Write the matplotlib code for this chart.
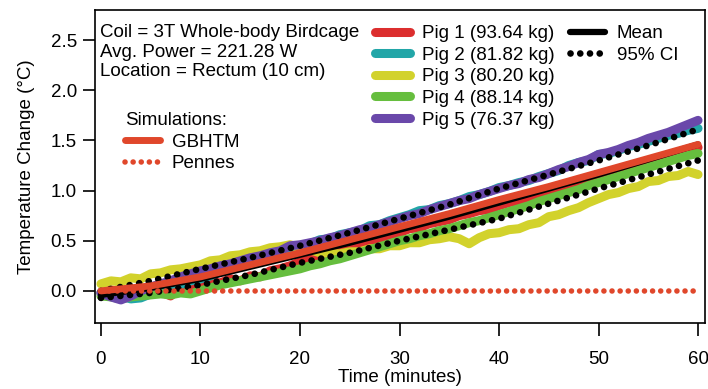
import numpy as np
import matplotlib
matplotlib.use("Agg")
import matplotlib.pyplot as plt

plt.rcParams['font.family'] = ['Liberation Sans', 'DejaVu Sans']
plt.rcParams['font.size'] = 13.5

# pig measurements, sampled every minute
t_pig = np.arange(0, 61)
pig1 = [-0.02, 0.01, -0.01, 0.02, 0.00, 0.03, -0.01, -0.05, 0.03, 0.05,
        0.06, 0.09, 0.08, 0.12, 0.10, 0.15, 0.14, 0.20, 0.22, 0.25,
        0.29, 0.31, 0.35, 0.36, 0.41, 0.44, 0.46, 0.50, 0.52, 0.56,
        0.58, 0.62, 0.63, 0.67, 0.69, 0.71, 0.75, 0.77, 0.80, 0.81,
        0.85, 0.88, 0.90, 0.94, 0.95, 0.99, 1.02, 1.04, 1.08, 1.10,
        1.14, 1.17, 1.20, 1.24, 1.26, 1.30, 1.32, 1.35, 1.38, 1.40, 1.43]
pig2 = [-0.02, -0.04, -0.05, -0.08, -0.07, -0.03, 0.00, 0.03, 0.06, 0.10,
        0.12, 0.15, 0.19, 0.21, 0.25, 0.27, 0.31, 0.35, 0.38, 0.40,
        0.44, 0.47, 0.51, 0.52, 0.56, 0.58, 0.60, 0.65, 0.66, 0.70,
        0.73, 0.76, 0.80, 0.81, 0.85, 0.87, 0.90, 0.94, 0.96, 0.99,
        1.03, 1.05, 1.08, 1.10, 1.14, 1.17, 1.20, 1.25, 1.28, 1.30,
        1.36, 1.37, 1.40, 1.44, 1.46, 1.49, 1.52, 1.55, 1.57, 1.60, 1.62]
pig3 = [0.07, 0.10, 0.09, 0.13, 0.12, 0.17, 0.18, 0.21, 0.22, 0.24,
        0.26, 0.30, 0.31, 0.35, 0.36, 0.39, 0.40, 0.43, 0.44, 0.46,
        0.43, 0.41, 0.38, 0.37, 0.37, 0.39, 0.39, 0.42, 0.42, 0.45,
        0.45, 0.48, 0.48, 0.51, 0.52, 0.54, 0.52, 0.47, 0.53, 0.57,
        0.58, 0.61, 0.62, 0.66, 0.68, 0.74, 0.76, 0.80, 0.83, 0.88,
        0.92, 0.96, 0.98, 1.02, 1.04, 1.09, 1.10, 1.14, 1.15, 1.19, 1.16]
pig4 = [-0.05, -0.06, -0.08, -0.06, -0.05, -0.04, -0.03, -0.04, -0.02, -0.03,
        0.00, 0.03, 0.06, 0.08, 0.10, 0.12, 0.14, 0.16, 0.18, 0.20,
        0.22, 0.25, 0.27, 0.30, 0.32, 0.35, 0.38, 0.41, 0.44, 0.47,
        0.50, 0.52, 0.55, 0.57, 0.60, 0.62, 0.65, 0.68, 0.70, 0.73,
        0.76, 0.79, 0.82, 0.85, 0.89, 0.92, 0.95, 0.98, 1.01, 1.05,
        1.08, 1.11, 1.14, 1.17, 1.20, 1.23, 1.26, 1.29, 1.32, 1.35, 1.37]
pig5 = [-0.02, -0.06, -0.09, -0.05, 0.00, 0.04, 0.07, 0.10, 0.14, 0.17,
        0.20, 0.22, 0.25, 0.27, 0.30, 0.33, 0.35, 0.38, 0.40, 0.45,
        0.46, 0.48, 0.50, 0.53, 0.55, 0.58, 0.61, 0.63, 0.66, 0.69,
        0.72, 0.75, 0.77, 0.81, 0.84, 0.87, 0.90, 0.92, 0.96, 0.99,
        1.02, 1.05, 1.07, 1.11, 1.13, 1.17, 1.21, 1.24, 1.28, 1.31,
        1.36, 1.38, 1.41, 1.45, 1.48, 1.52, 1.55, 1.58, 1.62, 1.66, 1.70]
pig_labels = ['Pig 1 (93.64 kg)', 'Pig 2 (81.82 kg)', 'Pig 3 (80.20 kg)',
              'Pig 4 (88.14 kg)', 'Pig 5 (76.37 kg)']
pig_colors = ['#dc2e2e', '#22a6a8', '#d2d22c', '#66be3e', '#6a48aa']

# mean, CI and simulations, every 5 minutes
t_sum = [0, 5, 10, 15, 20, 25, 30, 35, 40, 45, 50, 55, 60]
mean = [-0.04, 0.03, 0.12, 0.24, 0.36, 0.48, 0.61, 0.74, 0.88, 1.02, 1.16, 1.31, 1.46]
ci_hi = [0.00, 0.10, 0.22, 0.33, 0.45, 0.58, 0.72, 0.86, 1.02, 1.16, 1.30, 1.45, 1.61]
ci_lo = [-0.07, -0.02, 0.06, 0.16, 0.28, 0.38, 0.50, 0.61, 0.72, 0.87, 1.02, 1.16, 1.30]
gbhtm = [0.00, 0.05, 0.14, 0.26, 0.38, 0.51, 0.64, 0.77, 0.91, 1.04, 1.18, 1.32, 1.46]
t_pennes = [0, 60]
pennes = [0.0, 0.0]

sim_color = '#e0472b'
dots = (0, (0.01, 1.45))

fig = plt.figure(figsize=(7.08, 3.89), dpi=100)
ax = fig.add_axes([95 / 708, 66 / 389, 610 / 708, 313 / 389])

pig_lines = []
for vals, c, lab in zip([pig1, pig2, pig3, pig4, pig5], pig_colors, pig_labels):
    ln, = ax.plot(t_pig, vals, color=c, lw=6.5, solid_joinstyle='round',
                  solid_capstyle='round', label=lab)
    pig_lines.append(ln)

mean_ln, = ax.plot(t_sum, mean, color='black', lw=4.5, solid_capstyle='round', label='Mean')
ci_ln, = ax.plot(t_sum, ci_hi, color='black', lw=4.8, ls=dots,
                 dash_capstyle='round', label='95% CI')
ax.plot(t_sum, ci_lo, color='black', lw=4.8, ls=dots, dash_capstyle='round')
gb_ln, = ax.plot(t_sum, gbhtm, color=sim_color, lw=5, solid_capstyle='round', label='GBHTM')
pen_ln, = ax.plot(t_pennes, pennes, color=sim_color, lw=4, ls=dots,
                  dash_capstyle='round', label='Pennes')

ax.set_xlim(-0.6, 60.7)
ax.set_ylim(-0.32, 2.8)
ax.set_xticks([0, 10, 20, 30, 40, 50, 60])
ax.set_yticks([0.0, 0.5, 1.0, 1.5, 2.0, 2.5])
ax.set_yticklabels(['0.0', '0.5', '1.0', '1.5', '2.0', '2.5'])
ax.tick_params(direction='out', length=9, width=1.2, pad=4, labelsize=13.5)
ax.tick_params(axis='x', pad=11)
for s in ax.spines.values():
    s.set_linewidth(1.2)
ax.set_xlabel('Time (minutes)', fontsize=13.5, labelpad=1)
ax.set_ylabel('Temperature Change (°C)', fontsize=13.5, labelpad=11)

fig.text(100 / 708, 1 - 24 / 389,
         'Coil = 3T Whole-body Birdcage\nAvg. Power = 221.28 W\nLocation = Rectum (10 cm)',
         ha='left', va='top', fontsize=13.5, linespacing=1.2)

leg_kw = dict(frameon=False, fontsize=13.5, handlelength=1.85, handletextpad=0.65,
              labelspacing=0.24, borderpad=0, borderaxespad=0, loc='upper left')
leg1 = fig.legend(handles=pig_lines, bbox_transform=fig.transFigure,
                  bbox_to_anchor=(375 / 708, 1 - 25 / 389), **leg_kw)
leg2 = fig.legend(handles=[mean_ln, ci_ln], bbox_transform=fig.transFigure,
                  bbox_to_anchor=(570 / 708, 1 - 25 / 389), **leg_kw)
leg3 = fig.legend(handles=[gb_ln, pen_ln], title='Simulations:', alignment='left',
                  title_fontsize=13.5, bbox_transform=fig.transFigure,
                  bbox_to_anchor=(125 / 708, 1 - 112 / 389), **leg_kw)

fig.savefig('out.png', dpi=100)
